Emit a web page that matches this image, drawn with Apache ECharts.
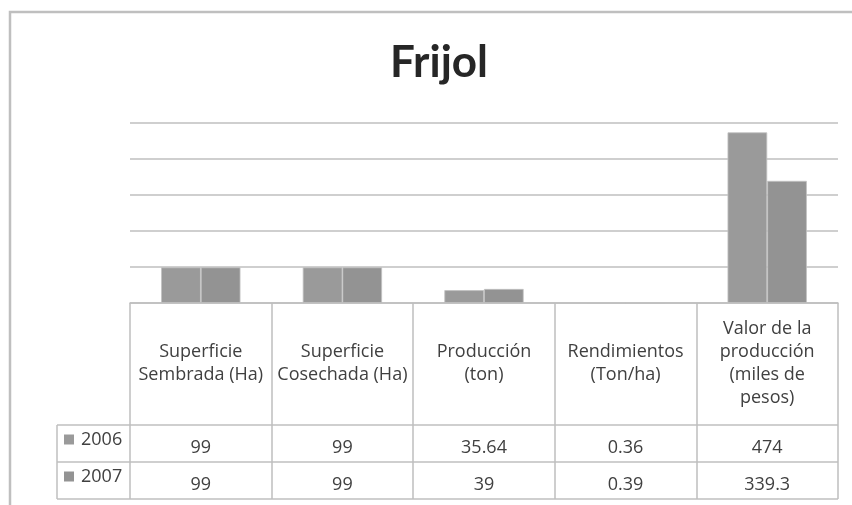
<!DOCTYPE html>
<html>
<head>
<meta charset="utf-8">
<script src="https://cdn.jsdelivr.net/npm/echarts@6/dist/echarts.min.js"></script>
<style>
  html, body { margin: 0; padding: 0; background: #fff; }
  #main { width: 852px; height: 505px; }
</style>
</head>
<body>
<div id="main"></div>
<script>
// data
var categories = ['Superficie\nSembrada (Ha)', 'Superficie\nCosechada (Ha)', 'Producción\n(ton)', 'Rendimientos\n(Ton/ha)', 'Valor de la\nproducción\n(miles de\npesos)'];
var years = ['2006', '2007'];
var values2006 = [99, 99, 35.64, 0.36, 474];
var values2007 = [99, 99, 39, 0.39, 339.3];
var yMin = 0, yMax = 500, yStep = 100;

var colors = ['#9a9a9a', '#939393'];
var lineColor = '#bfbfbf';
var font = '"Open Sans", Lato, sans-serif';

var chartDom = document.getElementById('main');
var myChart = echarts.init(chartDom);
var option;

option = {
    animation: false,
    title: {
        text: 'Frijol',
        left: 434,
        top: 36,
        textAlign: 'center',
        textStyle: { fontFamily: 'Lato, sans-serif', fontSize: 44, fontWeight: 'bold', color: '#262626' }
    },
    grid: { left: 130, right: 14, top: 123, bottom: 202 },
    xAxis: {
        type: 'category',
        data: categories,
        axisLine: { lineStyle: { color: lineColor, width: 1.5 } },
        axisTick: { show: true, interval: 0, length: 196, lineStyle: { color: lineColor, width: 1.5 } },
        axisLabel: {
            interval: 0,
            margin: 60,
            verticalAlign: 'middle',
            lineHeight: 23,
            fontSize: 18,
            fontFamily: font,
            color: '#404040'
        }
    },
    yAxis: {
        type: 'value',
        min: yMin,
        max: yMax,
        interval: yStep,
        axisLabel: { show: false },
        axisLine: { show: false },
        axisTick: { show: false },
        splitLine: { lineStyle: { color: lineColor, width: 1.5 } }
    },
    series: [
        {
            name: years[0],
            type: 'bar',
            data: values2006,
            barGap: '0%',
            barCategoryGap: '44%',
            itemStyle: { color: colors[0], borderColor: '#c2c2c2', borderWidth: 0.8 }
        },
        {
            name: years[1],
            type: 'bar',
            data: values2007,
            itemStyle: { color: colors[1], borderColor: '#c2c2c2', borderWidth: 0.8 }
        }
    ]
};

myChart.setOption(option);

// data table under the plot, built from the same arrays
function drawTable() {
    var rows = [values2006, values2007];
    var g = [];
    var x0 = 57, x1 = 838, top = 425, rowH = 37;
    // outer chart frame
    g.push({ type: 'rect', shape: { x: 10, y: 12, width: 900, height: 600 },
        style: { fill: null, stroke: lineColor, lineWidth: 2.5 }, silent: true });
    for (var r = 0; r <= rows.length; r++) {
        g.push({ type: 'line', shape: { x1: x0, y1: top + r * rowH, x2: x1, y2: top + r * rowH },
            style: { stroke: lineColor, lineWidth: 1.5 } });
    }
    g.push({ type: 'line', shape: { x1: x0, y1: top, x2: x0, y2: top + rows.length * rowH },
        style: { stroke: lineColor, lineWidth: 1.5 } });
    for (var r = 0; r < rows.length; r++) {
        var yc = top + r * rowH + rowH / 2;
        g.push({ type: 'rect', shape: { x: 64, y: yc - 9, width: 10, height: 10 },
            style: { fill: colors[r] } });
        g.push({ type: 'text', x: 81, y: yc - 4,
            style: { text: years[r], font: '18px ' + font, fill: '#404040', verticalAlign: 'middle', align: 'left' } });
        for (var i = 0; i < categories.length; i++) {
            var px = myChart.convertToPixel({ xAxisIndex: 0 }, i);
            g.push({ type: 'text', x: px, y: yc + 4,
                style: { text: String(rows[r][i]), font: '18px ' + font, fill: '#404040', verticalAlign: 'middle', align: 'center' } });
        }
    }
    myChart.setOption({ graphic: g });
}
drawTable();
</script>
</body>
</html>
